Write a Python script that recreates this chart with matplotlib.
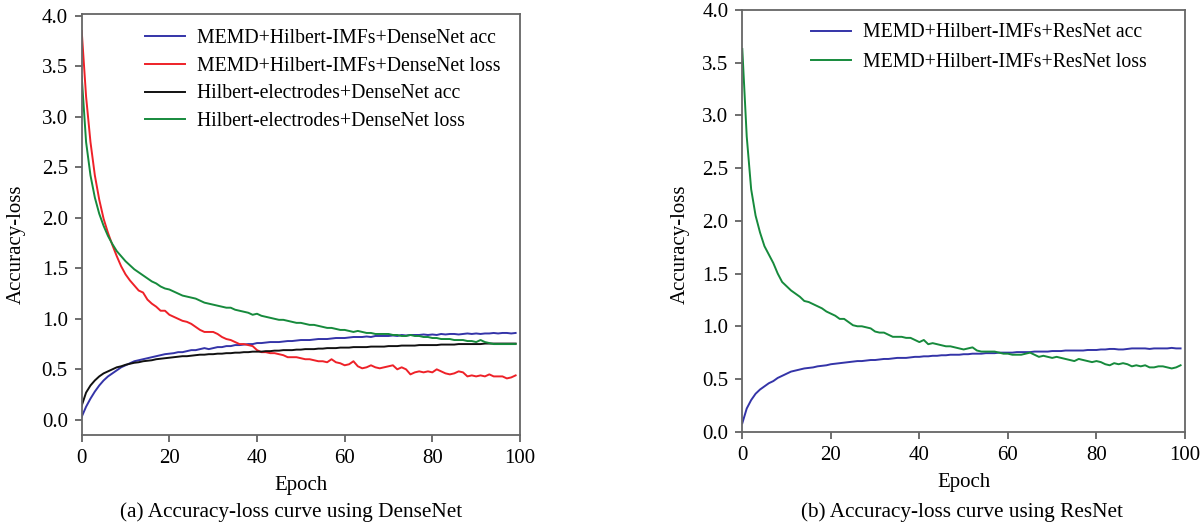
import matplotlib
matplotlib.use("Agg")
import matplotlib.pyplot as plt
import numpy as np

plt.rcParams['font.family'] = ['Liberation Serif', 'DejaVu Serif']

epochs = np.arange(100)

# (a) DenseNet
dn_imf_acc = [
    0.03, 0.13, 0.21, 0.28, 0.34, 0.39, 0.43, 0.46, 0.49, 0.52,
    0.54, 0.56, 0.58, 0.59, 0.60, 0.61, 0.62, 0.63, 0.64, 0.65,
    0.655, 0.66, 0.67, 0.67, 0.68, 0.69, 0.69, 0.70, 0.71, 0.70,
    0.71, 0.72, 0.72, 0.73, 0.73, 0.74, 0.74, 0.745, 0.75, 0.75,
    0.76, 0.76, 0.765, 0.77, 0.77, 0.77, 0.775, 0.78, 0.78, 0.785,
    0.79, 0.79, 0.79, 0.795, 0.80, 0.80, 0.80, 0.805, 0.81, 0.81,
    0.81, 0.815, 0.82, 0.82, 0.82, 0.825, 0.82, 0.83, 0.83, 0.83,
    0.83, 0.835, 0.83, 0.84, 0.835, 0.84, 0.84, 0.84, 0.845, 0.84,
    0.845, 0.84, 0.85, 0.845, 0.85, 0.85, 0.845, 0.85, 0.855, 0.85,
    0.855, 0.85, 0.855, 0.855, 0.86, 0.855, 0.86, 0.86, 0.855, 0.86,
]
dn_imf_loss = [
    3.85, 3.20, 2.75, 2.42, 2.18, 1.99, 1.85, 1.73, 1.62, 1.52,
    1.44, 1.38, 1.33, 1.28, 1.26, 1.19, 1.15, 1.12, 1.08, 1.08,
    1.04, 1.02, 1.00, 0.98, 0.97, 0.95, 0.92, 0.89, 0.87, 0.87,
    0.87, 0.85, 0.82, 0.80, 0.79, 0.77, 0.75, 0.75, 0.74, 0.73,
    0.69, 0.67, 0.67, 0.66, 0.66, 0.65, 0.64, 0.62, 0.62, 0.62,
    0.61, 0.60, 0.60, 0.59, 0.58, 0.58, 0.57, 0.60, 0.57, 0.56,
    0.54, 0.55, 0.58, 0.53, 0.51, 0.52, 0.54, 0.52, 0.51, 0.52,
    0.53, 0.54, 0.50, 0.52, 0.50, 0.45, 0.47, 0.48, 0.47, 0.48,
    0.47, 0.50, 0.48, 0.46, 0.45, 0.46, 0.48, 0.47, 0.43, 0.44,
    0.43, 0.44, 0.43, 0.45, 0.43, 0.43, 0.43, 0.41, 0.42, 0.44,
]
dn_elec_acc = [
    0.14, 0.27, 0.34, 0.39, 0.43, 0.46, 0.48, 0.50, 0.52, 0.53,
    0.545, 0.555, 0.565, 0.57, 0.58, 0.585, 0.59, 0.60, 0.605, 0.61,
    0.615, 0.62, 0.625, 0.63, 0.63, 0.635, 0.64, 0.645, 0.645, 0.65,
    0.65, 0.655, 0.655, 0.66, 0.66, 0.665, 0.665, 0.67, 0.67, 0.675,
    0.675, 0.675, 0.68, 0.68, 0.685, 0.685, 0.69, 0.69, 0.69, 0.695,
    0.695, 0.70, 0.70, 0.70, 0.705, 0.705, 0.71, 0.71, 0.71, 0.715,
    0.715, 0.715, 0.72, 0.72, 0.72, 0.72, 0.725, 0.725, 0.725, 0.725,
    0.73, 0.73, 0.73, 0.735, 0.735, 0.735, 0.735, 0.74, 0.74, 0.74,
    0.74, 0.74, 0.745, 0.745, 0.745, 0.745, 0.75, 0.75, 0.75, 0.75,
    0.75, 0.75, 0.755, 0.755, 0.755, 0.755, 0.755, 0.755, 0.755, 0.755,
]
dn_elec_loss = [
    3.40, 2.75, 2.42, 2.20, 2.04, 1.92, 1.82, 1.74, 1.67, 1.62,
    1.57, 1.53, 1.49, 1.46, 1.43, 1.40, 1.37, 1.35, 1.32, 1.30,
    1.29, 1.27, 1.25, 1.23, 1.22, 1.21, 1.20, 1.18, 1.16, 1.15,
    1.14, 1.13, 1.12, 1.11, 1.11, 1.09, 1.08, 1.07, 1.06, 1.04,
    1.05, 1.03, 1.02, 1.01, 1.00, 0.99, 0.99, 0.98, 0.97, 0.96,
    0.96, 0.95, 0.94, 0.94, 0.93, 0.92, 0.91, 0.91, 0.90, 0.89,
    0.89, 0.88, 0.87, 0.88, 0.87, 0.86, 0.86, 0.85, 0.85, 0.85,
    0.85, 0.84, 0.84, 0.83, 0.83, 0.84, 0.83, 0.83, 0.82, 0.82,
    0.81, 0.81, 0.80, 0.80, 0.80, 0.79, 0.79, 0.79, 0.78, 0.78,
    0.77, 0.79, 0.77, 0.76, 0.75, 0.75, 0.75, 0.75, 0.75, 0.75,
]

# (b) ResNet
rn_imf_acc = [
    0.08, 0.22, 0.30, 0.36, 0.40, 0.43, 0.46, 0.48, 0.51, 0.53,
    0.55, 0.57, 0.58, 0.59, 0.60, 0.605, 0.61, 0.62, 0.625, 0.63,
    0.64, 0.645, 0.65, 0.655, 0.66, 0.665, 0.67, 0.67, 0.675, 0.68,
    0.68, 0.685, 0.69, 0.69, 0.695, 0.70, 0.70, 0.70, 0.705, 0.71,
    0.71, 0.715, 0.715, 0.72, 0.72, 0.725, 0.725, 0.73, 0.73, 0.73,
    0.735, 0.735, 0.74, 0.74, 0.74, 0.745, 0.745, 0.745, 0.75, 0.75,
    0.75, 0.75, 0.755, 0.755, 0.755, 0.755, 0.76, 0.76, 0.76, 0.76,
    0.765, 0.765, 0.765, 0.77, 0.77, 0.77, 0.77, 0.77, 0.775, 0.775,
    0.775, 0.78, 0.78, 0.785, 0.785, 0.78, 0.78, 0.785, 0.79, 0.79,
    0.79, 0.79, 0.785, 0.79, 0.79, 0.79, 0.79, 0.795, 0.79, 0.79,
]
rn_imf_loss = [
    3.63, 2.80, 2.30, 2.05, 1.89, 1.76, 1.68, 1.60, 1.50, 1.42,
    1.38, 1.34, 1.31, 1.28, 1.24, 1.23, 1.21, 1.19, 1.17, 1.14,
    1.12, 1.10, 1.07, 1.07, 1.04, 1.01, 1.00, 1.00, 0.99, 0.98,
    0.95, 0.94, 0.94, 0.92, 0.90, 0.90, 0.90, 0.89, 0.89, 0.87,
    0.85, 0.87, 0.83, 0.84, 0.83, 0.82, 0.81, 0.81, 0.80, 0.79,
    0.78, 0.79, 0.80, 0.77, 0.76, 0.76, 0.76, 0.76, 0.75, 0.74,
    0.74, 0.73, 0.73, 0.73, 0.74, 0.75, 0.73, 0.71, 0.72, 0.71,
    0.70, 0.71, 0.70, 0.69, 0.68, 0.67, 0.69, 0.68, 0.67, 0.66,
    0.67, 0.66, 0.64, 0.63, 0.65, 0.64, 0.65, 0.64, 0.62, 0.63,
    0.62, 0.63, 0.61, 0.61, 0.62, 0.62, 0.61, 0.60, 0.61, 0.63,
]

BLUE = '#3434a8'
RED = '#ee2128'
BLACK = '#111111'
GREEN = '#168a3c'

W, H = 1201, 527
fig = plt.figure(figsize=(W / 100, H / 100), dpi=100)

ax1 = fig.add_axes([81.7 / W, 1 - 435 / H, (520 - 81.7) / W, (435 - 14) / H])
ax2 = fig.add_axes([742.3 / W, 1 - 431.7 / H, (1185 - 742.3) / W, (431.7 - 10) / H])

lw = 1.4
ax1.plot(epochs, dn_imf_acc, color=BLUE, lw=lw, label='MEMD+Hilbert-IMFs+DenseNet acc')
ax1.plot(epochs, dn_imf_loss, color=RED, lw=lw, label='MEMD+Hilbert-IMFs+DenseNet loss')
ax1.plot(epochs, dn_elec_acc, color=BLACK, lw=lw, label='Hilbert-electrodes+DenseNet acc')
ax1.plot(epochs, dn_elec_loss, color=GREEN, lw=lw, label='Hilbert-electrodes+DenseNet loss')
ax1.set_ylim(-0.15, 4.017)

ax2.plot(epochs, rn_imf_acc, color=BLUE, lw=lw, label='MEMD+Hilbert-IMFs+ResNet acc')
ax2.plot(epochs, rn_imf_loss, color=GREEN, lw=lw, label='MEMD+Hilbert-IMFs+ResNet loss')
ax2.set_ylim(0, 4.0)

fs = 15
for ax in (ax1, ax2):
    ax.set_xlim(0, 100)
    ax.set_xticks([0, 20, 40, 60, 80, 100])
    ax.set_yticks(np.arange(0, 4.01, 0.5))
    ax.set_yticklabels([f'{v:.1f}' for v in np.arange(0, 4.01, 0.5)])
    ax.tick_params(direction='out', length=5, width=1.2, color='#555555',
                   labelsize=fs, pad=5)
    for s in ax.spines.values():
        s.set_color('#666666')
        s.set_linewidth(1.3)
    ax.set_xlabel('Epoch', fontsize=fs, labelpad=6)
    ax.set_ylabel('Accuracy-loss', fontsize=fs)

ax1.yaxis.set_label_coords(-0.127, 0.454)
ax2.yaxis.set_label_coords(-0.118, 0.445)

ax1.legend(loc='upper left', bbox_to_anchor=((145 - 81.7) / (520 - 81.7), 0.965),
           frameon=False, fontsize=14.2, handlelength=2.05, handletextpad=0.6,
           labelspacing=0.45, borderpad=0, borderaxespad=0)
ax2.legend(loc='upper left', bbox_to_anchor=((811 - 742.3) / (1185 - 742.3), 0.968),
           frameon=False, fontsize=14.2, handlelength=2.05, handletextpad=0.6,
           labelspacing=0.52, borderpad=0, borderaxespad=0)

fig.text(291 / W, 1 - 512 / H, '(a) Accuracy-loss curve using DenseNet',
         ha='center', va='center', fontsize=15.3)
fig.text(962 / W, 1 - 512 / H, '(b) Accuracy-loss curve using ResNet',
         ha='center', va='center', fontsize=15.3)

fig.savefig('out.png', dpi=100)
